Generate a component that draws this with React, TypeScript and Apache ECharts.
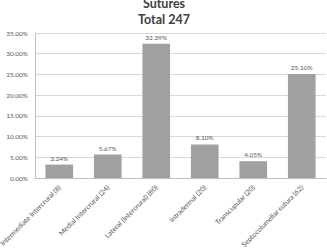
import React, { useEffect, useRef } from "react";
import * as echarts from "echarts";

const categories = [
  "Intermediate Intercrural (8)",
  "Medial Intercrural (24)",
  "Lateral (Intercrural) (80)",
  "Intradermal (20)",
  "Transcupular (20)",
  "Septocolumellar sutura (62)",
];
const values = [3.24, 5.67, 32.39, 8.1, 4.05, 25.1];
const yTicks = [0, 5, 10, 15, 20, 25, 30, 35];
const titleLines = ["Sutures", "Total 247"];

export default function App() {
  const ref = useRef<HTMLDivElement>(null);
  useEffect(() => {
    document.body.style.margin = "0";
    const chart = echarts.init(ref.current!, null, { renderer: "svg" });
    chart.setOption({
      animation: false,
      graphic: titleLines.map((t, i) => ({
        type: "text",
        x: 164,
        y: 3 + i * 16,
        style: {
          text: t,
          fontFamily: "Lato",
          fontWeight: "bold",
          fontSize: 12.5,
          fill: "#404040",
          align: "center",
          verticalAlign: "middle",
        },
      })),
      grid: { left: 35, right: 1, top: 33, bottom: 72, outerBoundsMode: "none" },
      xAxis: {
        type: "category",
        data: categories,
        axisLine: { lineStyle: { color: "#bfbfbf" } },
        axisTick: { show: false },
        axisLabel: {
          rotate: 45,
          interval: 0,
          fontSize: 7,
          fontFamily: "Lato",
          color: "#595959",
          margin: 8,
          hideOverlap: false,
        },
      },
      yAxis: {
        type: "value",
        min: yTicks[0],
        max: yTicks[yTicks.length - 1],
        interval: 5,
        axisLine: { show: true, lineStyle: { color: "#bfbfbf" } },
        axisTick: { show: false },
        splitLine: { lineStyle: { color: "#d9d9d9" } },
        axisLabel: {
          fontSize: 6.5,
          fontFamily: "Lato",
          color: "#595959",
          margin: 7,
          formatter: (v: number) => v.toFixed(2) + "%",
        },
      },
      series: [
        {
          type: "bar",
          data: values,
          barWidth: "57%",
          itemStyle: { color: "#a0a0a0" },
          label: {
            show: true,
            position: "top",
            fontSize: 6.5,
            fontFamily: "Lato",
            color: "#595959",
            distance: 3,
            formatter: (p: any) => p.value.toFixed(2) + "%",
          },
        },
      ],
    });
    return () => chart.dispose();
  }, []);
  return <div ref={ref} style={{ width: 327, height: 250 }} />;
}
